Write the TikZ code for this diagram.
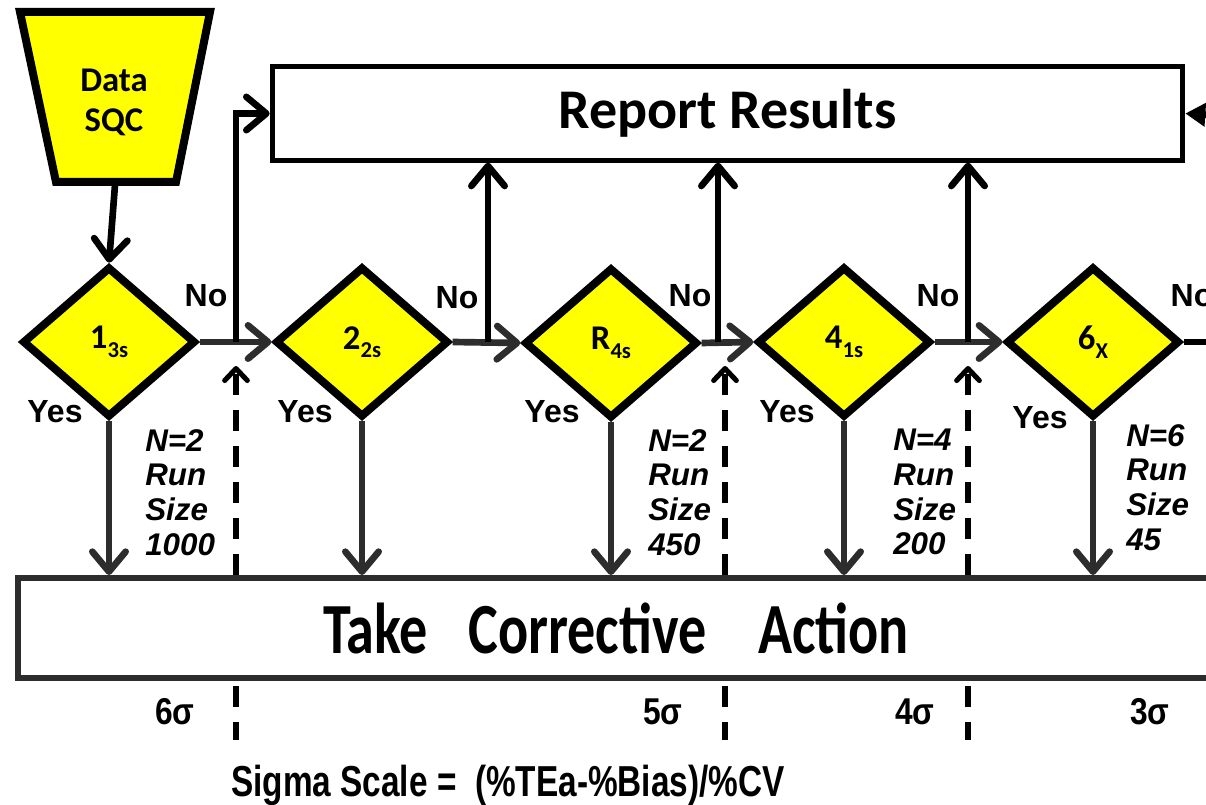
\documentclass[tikz,border=0pt]{standalone}
\usepackage{fontspec}
\setmainfont{Liberation Sans}
\newfontfamily\calfont{Carlito}
\usetikzlibrary{shapes.geometric,arrows.meta,calc}
\definecolor{dg}{RGB}{45,45,45}
\definecolor{yel}{RGB}{255,255,0}
\newcommand\sbs[1]{\raisebox{-0.5ex}{\fontsize{17}{17}\selectfont #1}}
\begin{document}
\begin{tikzpicture}[x=0.75pt,y=-0.75pt,
  lw/.style={line width=5pt},
  arr/.style={-{Straight Barb[length=15pt,width=25pt,round]}},
  dia/.style={diamond, draw=black, line width=6pt, fill=yel, minimum width=130pt, minimum height=113pt, inner sep=0pt, font=\calfont\bfseries\fontsize{26}{28}\selectfont},
  dsh/.style={line width=3.8pt, dash pattern=on 16pt off 11pt},
  nolbl/.style={font=\bfseries\fontsize{24}{26}\selectfont, inner sep=0pt},
  nlbl/.style={anchor=north west, align=left, inner sep=0pt, font=\bfseries\itshape\fontsize{23.5}{26}\selectfont},
  sig/.style={inner sep=0pt, font=\bfseries\fontsize{28}{30}\selectfont}
]
\useasboundingbox (0,0) rectangle (1206,805);
% data trapezoid
\draw[line width=6pt, fill=yel, line join=miter] (20,12) -- (210,12) -- (176,182) -- (56,182) -- cycle;
\node[align=center, inner sep=0pt, font=\calfont\bfseries\fontsize{26}{30}\selectfont] (data) at (114,102) {Data\\SQC};
\coordinate (dataB) at (115,185);
% diamonds
\node[dia] (d1) at (109,342) {1\sbs{3s}};
\node[dia] (d2) at (362,342) {2\sbs{2s}};
\node[dia] (d3) at (611,343) {R\sbs{4s}};
\node[dia] (d4) at (844,342) {4\sbs{1s}};
\node[dia] (d5) at (1093,342) {6\sbs{X}};
% boxes
\node[draw=black, line width=3.75pt, fill=white, minimum width=683pt, minimum height=70pt, inner sep=0pt, font=\calfont\bfseries\fontsize{42}{46}\selectfont] (report) at (727.5,113.5) {Report Results};
\node[draw=dg, line width=4.5pt, fill=white, minimum width=897pt, minimum height=75pt, inner sep=0pt, font=\calfont\bfseries\fontsize{54}{58}\selectfont] (corr) at (616,628) {\scalebox{0.78}[1]{Take\hspace{0.72em}Corrective\hspace{0.92em}Action}};
% junctions
\coordinate (j1) at (236,342);
\coordinate (j2) at (488,342);
\coordinate (j3) at (718,342);
\coordinate (j4) at (968,342);
\coordinate (k1) at (236,366);
\coordinate (k2) at (725,366);
\coordinate (k3) at (968,366);
\coordinate (b1) at (236,740);
\coordinate (b2) at (725,740);
\coordinate (b3) at (968,740);
\coordinate (offA) at (1240,342);
\coordinate (offB) at (1240,117);
% connectors
\draw[lw, arr] (dataB) -- (d1.north);
\draw[lw, dg, arr] (d1.east) -- (d2.west);
\draw[lw, dg, arr] (d2.east) -- (d3.west);
\draw[lw, dg, arr] (d3.east) -- (d4.west);
\draw[lw, dg, arr] (d4.east) -- (d5.west);
\draw[lw] (d5.east) -- (offA);
\draw[lw, arr] (j1) |- (report.west);
\draw[lw, arr] (j2) -- (j2 |- report.south);
\draw[lw, arr] (j3) -- (j3 |- report.south);
\draw[lw, arr] (j4) -- (j4 |- report.south);
\draw[lw, -{Triangle[length=15pt,width=17pt]}] (offB) -- (report.east);
\foreach \d in {d1,d2,d3,d4,d5}{
  \draw[lw, dg, arr] (\d.south) -- (\d.south |- corr.north);
}
\foreach \k in {k1,k2,k3}{
  \draw[dsh, -{Straight Barb[length=9pt,width=17pt,round]}] (\k |- corr.north) -- (\k);
}
\draw[dsh] ($(k1 |- corr.south)+(0,5)$) -- (b1);
\draw[dsh] ($(k2 |- corr.south)+(0,5)$) -- (b2);
\draw[dsh] ($(k3 |- corr.south)+(0,5)$) -- (b3);
% No / Yes labels
\node[nolbl] (no1) at (206,296) {No};
\node[nolbl] (no2) at (457,298) {No};
\node[nolbl] (no3) at (690,296) {No};
\node[nolbl] (no4) at (938,296) {No};
\node[nolbl] (no5) at (1192,296) {No};
\node[nolbl] (y1) at (55,412) {Yes};
\node[nolbl] (y2) at (305,412) {Yes};
\node[nolbl] (y3) at (552,412) {Yes};
\node[nolbl] (y4) at (787,412) {Yes};
\node[nolbl] (y5) at (1040,418) {Yes};
% run size labels
\node[nlbl] (n1) at (145,429) {N=2\\Run\\Size\\1000};
\node[nlbl] (n2) at (648,429) {N=2\\Run\\Size\\450};
\node[nlbl] (n3) at (893,429) {N=4\\Run\\Size\\200};
\node[nlbl] (n4) at (1126,424) {N=6\\Run\\Size\\45};
% sigma labels
\node[sig] (s6) at (175,712) {\scalebox{0.85}[1]{6σ}};
\node[sig] (s5) at (663,712) {\scalebox{0.85}[1]{5σ}};
\node[sig] (s4) at (915,712) {\scalebox{0.85}[1]{4σ}};
\node[sig] (s3) at (1150,712) {\scalebox{0.85}[1]{3σ}};
\node[inner sep=0pt, font=\bfseries\fontsize{32.5}{34}\selectfont] (scale) at (508,785) {\scalebox{0.77}[1]{Sigma Scale =\ \ (\%TEa-\%Bias)/\%CV}};
\end{tikzpicture}
\end{document}
